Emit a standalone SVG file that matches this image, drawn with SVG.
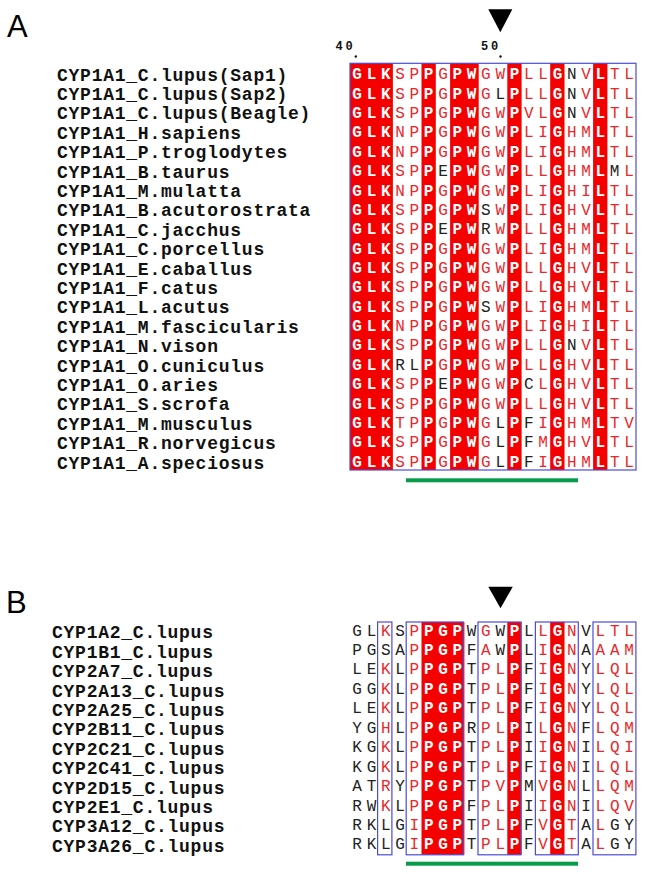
<svg xmlns="http://www.w3.org/2000/svg" width="646" height="874" viewBox="0 0 646 874">
<style>
.panel{font-family:"Liberation Sans",Arial,sans-serif;font-size:31px;fill:#000}
.lab{font-family:"Liberation Mono","DejaVu Sans Mono",monospace;font-weight:bold;font-size:18px;letter-spacing:0.75px;fill:#111}
.seq{font-family:"Liberation Mono","DejaVu Sans Mono",monospace;font-size:16px;letter-spacing:4.7px;fill:#e8282c}
.w{fill:#fff;font-weight:bold}
.k{fill:#222}
.bg{fill:#f40000}
.box{fill:none;stroke:#4b4bdc;stroke-width:1.2}
.grn{fill:#089c4a}
.num{font-family:"Liberation Mono","DejaVu Sans Mono",monospace;font-weight:bold;font-size:12px;letter-spacing:2.8px;fill:#111}
.tri{fill:#000}
</style>

<g id="panelA">
<text class="panel" x="7" y="36.7">A</text>
<polygon class="tri" points="488.3,9.3 512.3,9.3 500.3,32.3"/>
<text class="num" x="335.5" y="50">40</text>
<text class="num" x="481" y="50">50</text>
<circle cx="355.8" cy="56.5" r="1.2" fill="#111"/>
<circle cx="500.5" cy="56.5" r="1.2" fill="#111"/>

<g id="labelsA" class="lab">
<text x="57" y="80.5">CYP1A1_C.lupus(Sap1)</text>
<text x="57" y="99.9">CYP1A1_C.lupus(Sap2)</text>
<text x="57" y="119.3">CYP1A1_C.lupus(Beagle)</text>
<text x="57" y="138.7">CYP1A1_H.sapiens</text>
<text x="57" y="158.1">CYP1A1_P.troglodytes</text>
<text x="57" y="177.5">CYP1A1_B.taurus</text>
<text x="57" y="196.9">CYP1A1_M.mulatta</text>
<text x="57" y="216.3">CYP1A1_B.acutorostrata</text>
<text x="57" y="235.7">CYP1A1_C.jacchus</text>
<text x="57" y="255.1">CYP1A1_C.porcellus</text>
<text x="57" y="274.5">CYP1A1_E.caballus</text>
<text x="57" y="293.9">CYP1A1_F.catus</text>
<text x="57" y="313.3">CYP1A1_L.acutus</text>
<text x="57" y="332.7">CYP1A1_M.fascicularis</text>
<text x="57" y="352.1">CYP1A1_N.vison</text>
<text x="57" y="371.5">CYP1A1_O.cuniculus</text>
<text x="57" y="390.9">CYP1A1_O.aries</text>
<text x="57" y="410.3">CYP1A1_S.scrofa</text>
<text x="57" y="429.7">CYP1A1_M.musculus</text>
<text x="57" y="449.1">CYP1A1_R.norvegicus</text>
<text x="57" y="468.5">CYP1A1_A.speciosus</text>
</g>

<g id="shadingA">
<rect class="bg" x="350" y="63.3" width="42.9" height="406.7"/>
<rect class="bg" x="421.5" y="63.3" width="14.3" height="406.7"/>
<rect class="bg" x="450.1" y="63.3" width="28.6" height="406.7"/>
<rect class="bg" x="507.3" y="63.3" width="14.3" height="406.7"/>
<rect class="bg" x="550.2" y="63.3" width="14.3" height="406.7"/>
<rect class="bg" x="593.1" y="63.3" width="14.3" height="406.7"/>
<rect class="box" x="350" y="63.3" width="286" height="406.7"/>
</g>

<g id="alignA" class="seq">
<text x="352.35" y="79.3"><tspan class="w">GLK</tspan>SP<tspan class="w">P</tspan>G<tspan class="w">PW</tspan>GW<tspan class="w">P</tspan>LL<tspan class="w">G</tspan><tspan class="k">N</tspan>V<tspan class="w">L</tspan>TL</text>
<text x="352.35" y="98.67"><tspan class="w">GLK</tspan>SP<tspan class="w">P</tspan>G<tspan class="w">PW</tspan>G<tspan class="k">L</tspan><tspan class="w">P</tspan>LL<tspan class="w">G</tspan><tspan class="k">N</tspan>V<tspan class="w">L</tspan>TL</text>
<text x="352.35" y="118.04"><tspan class="w">GLK</tspan>SP<tspan class="w">P</tspan>G<tspan class="w">PW</tspan>GW<tspan class="w">P</tspan>VL<tspan class="w">G</tspan><tspan class="k">N</tspan>V<tspan class="w">L</tspan>TL</text>
<text x="352.35" y="137.41"><tspan class="w">GLK</tspan>NP<tspan class="w">P</tspan>G<tspan class="w">PW</tspan>GW<tspan class="w">P</tspan>LI<tspan class="w">G</tspan>HM<tspan class="w">L</tspan>TL</text>
<text x="352.35" y="156.78"><tspan class="w">GLK</tspan>NP<tspan class="w">P</tspan>G<tspan class="w">PW</tspan>GW<tspan class="w">P</tspan>LI<tspan class="w">G</tspan>HM<tspan class="w">L</tspan>TL</text>
<text x="352.35" y="176.15"><tspan class="w">GLK</tspan>SP<tspan class="w">P</tspan><tspan class="k">E</tspan><tspan class="w">PW</tspan>GW<tspan class="w">P</tspan>LL<tspan class="w">G</tspan>HM<tspan class="w">L</tspan><tspan class="k">M</tspan>L</text>
<text x="352.35" y="195.52"><tspan class="w">GLK</tspan>NP<tspan class="w">P</tspan>G<tspan class="w">PW</tspan>GW<tspan class="w">P</tspan>LI<tspan class="w">G</tspan>HI<tspan class="w">L</tspan>TL</text>
<text x="352.35" y="214.89"><tspan class="w">GLK</tspan>SP<tspan class="w">P</tspan>G<tspan class="w">PW</tspan><tspan class="k">S</tspan>W<tspan class="w">P</tspan>LI<tspan class="w">G</tspan>HV<tspan class="w">L</tspan>TL</text>
<text x="352.35" y="234.26"><tspan class="w">GLK</tspan>SP<tspan class="w">P</tspan><tspan class="k">E</tspan><tspan class="w">PW</tspan><tspan class="k">R</tspan>W<tspan class="w">P</tspan>LL<tspan class="w">G</tspan>HM<tspan class="w">L</tspan>TL</text>
<text x="352.35" y="253.63"><tspan class="w">GLK</tspan>SP<tspan class="w">P</tspan>G<tspan class="w">PW</tspan>GW<tspan class="w">P</tspan>LI<tspan class="w">G</tspan>HM<tspan class="w">L</tspan>TL</text>
<text x="352.35" y="273"><tspan class="w">GLK</tspan>SP<tspan class="w">P</tspan>G<tspan class="w">PW</tspan>GW<tspan class="w">P</tspan>LL<tspan class="w">G</tspan>HV<tspan class="w">L</tspan>TL</text>
<text x="352.35" y="292.37"><tspan class="w">GLK</tspan>SP<tspan class="w">P</tspan>G<tspan class="w">PW</tspan>GW<tspan class="w">P</tspan>LL<tspan class="w">G</tspan>HV<tspan class="w">L</tspan>TL</text>
<text x="352.35" y="311.74"><tspan class="w">GLK</tspan>SP<tspan class="w">P</tspan>G<tspan class="w">PW</tspan><tspan class="k">S</tspan>W<tspan class="w">P</tspan>LI<tspan class="w">G</tspan>HM<tspan class="w">L</tspan>TL</text>
<text x="352.35" y="331.11"><tspan class="w">GLK</tspan>NP<tspan class="w">P</tspan>G<tspan class="w">PW</tspan>GW<tspan class="w">P</tspan>LI<tspan class="w">G</tspan>HI<tspan class="w">L</tspan>TL</text>
<text x="352.35" y="350.48"><tspan class="w">GLK</tspan>SP<tspan class="w">P</tspan>G<tspan class="w">PW</tspan>GW<tspan class="w">P</tspan>LL<tspan class="w">G</tspan><tspan class="k">N</tspan>V<tspan class="w">L</tspan>TL</text>
<text x="352.35" y="369.85"><tspan class="w">GLK</tspan><tspan class="k">RL</tspan><tspan class="w">P</tspan>G<tspan class="w">PW</tspan>GW<tspan class="w">P</tspan>LL<tspan class="w">G</tspan>HV<tspan class="w">L</tspan>TL</text>
<text x="352.35" y="389.22"><tspan class="w">GLK</tspan>SP<tspan class="w">P</tspan><tspan class="k">E</tspan><tspan class="w">PW</tspan>GW<tspan class="w">P</tspan><tspan class="k">C</tspan>L<tspan class="w">G</tspan>HV<tspan class="w">L</tspan>TL</text>
<text x="352.35" y="408.59"><tspan class="w">GLK</tspan>SP<tspan class="w">P</tspan>G<tspan class="w">PW</tspan>GW<tspan class="w">P</tspan>LL<tspan class="w">G</tspan>HV<tspan class="w">L</tspan>TL</text>
<text x="352.35" y="427.96"><tspan class="w">GLK</tspan>TP<tspan class="w">P</tspan>G<tspan class="w">PW</tspan>G<tspan class="k">L</tspan><tspan class="w">P</tspan><tspan class="k">F</tspan>I<tspan class="w">G</tspan>HM<tspan class="w">L</tspan>TV</text>
<text x="352.35" y="447.33"><tspan class="w">GLK</tspan>SP<tspan class="w">P</tspan>G<tspan class="w">PW</tspan>G<tspan class="k">L</tspan><tspan class="w">P</tspan><tspan class="k">F</tspan>M<tspan class="w">G</tspan>HV<tspan class="w">L</tspan>TL</text>
<text x="352.35" y="466.7"><tspan class="w">GLK</tspan>SP<tspan class="w">P</tspan>G<tspan class="w">PW</tspan>G<tspan class="k">L</tspan><tspan class="w">P</tspan><tspan class="k">F</tspan>I<tspan class="w">G</tspan>HM<tspan class="w">L</tspan>TL</text>
</g>
<rect class="grn" x="406" y="478.3" width="172" height="4"/>
</g>

<g id="panelB">
<text class="panel" x="6" y="612.7">B</text>
<polygon class="tri" points="488.3,586.7 512.8,586.7 500.5,608.3"/>

<g id="labelsB" class="lab">
<text x="52" y="638.3">CYP1A2_C.lupus</text>
<text x="52" y="657.7">CYP1B1_C.lupus</text>
<text x="52" y="677.1">CYP2A7_C.lupus</text>
<text x="52" y="696.5">CYP2A13_C.lupus</text>
<text x="52" y="715.9">CYP2A25_C.lupus</text>
<text x="52" y="735.3">CYP2B11_C.lupus</text>
<text x="52" y="754.7">CYP2C21_C.lupus</text>
<text x="52" y="774.1">CYP2C41_C.lupus</text>
<text x="52" y="793.5">CYP2D15_C.lupus</text>
<text x="52" y="812.9">CYP2E1_C.lupus</text>
<text x="52" y="832.3">CYP3A12_C.lupus</text>
<text x="52" y="851.7">CYP3A26_C.lupus</text>
</g>

<g id="shadingB">
<rect class="bg" x="421.5" y="622" width="42.9" height="232.8"/>
<rect class="bg" x="507.3" y="622" width="14.3" height="232.8"/>
<rect class="bg" x="550.2" y="622" width="14.3" height="232.8"/>
<rect class="box" x="377.6" y="622" width="14.3" height="232.8"/>
<rect class="box" x="406.2" y="622" width="57.2" height="232.8"/>
<rect class="box" x="478" y="622" width="42.9" height="232.8"/>
<rect class="box" x="535.4" y="622" width="42.9" height="232.8"/>
<rect class="box" x="593" y="622" width="42.9" height="232.8"/>
</g>

<g id="alignB" class="seq">
<text x="352.35" y="635.5"><tspan class="k">GL</tspan>K<tspan class="k">S</tspan>P<tspan class="w">PGP</tspan><tspan class="k">W</tspan>G<tspan class="k">W</tspan><tspan class="w">P</tspan><tspan class="k">L</tspan>L<tspan class="w">G</tspan>N<tspan class="k">V</tspan>LTL</text>
<text x="352.35" y="654.95"><tspan class="k">PGSA</tspan>P<tspan class="w">PGP</tspan><tspan class="k">F</tspan>A<tspan class="k">W</tspan><tspan class="w">P</tspan><tspan class="k">L</tspan>I<tspan class="w">G</tspan>N<tspan class="k">A</tspan>AAM</text>
<text x="352.35" y="674.4"><tspan class="k">LE</tspan>K<tspan class="k">L</tspan>P<tspan class="w">PGP</tspan><tspan class="k">T</tspan>PL<tspan class="w">P</tspan><tspan class="k">F</tspan>I<tspan class="w">G</tspan>N<tspan class="k">Y</tspan>LQL</text>
<text x="352.35" y="693.85"><tspan class="k">GG</tspan>K<tspan class="k">L</tspan>P<tspan class="w">PGP</tspan><tspan class="k">T</tspan>PL<tspan class="w">P</tspan><tspan class="k">F</tspan>I<tspan class="w">G</tspan>N<tspan class="k">Y</tspan>LQL</text>
<text x="352.35" y="713.3"><tspan class="k">LE</tspan>K<tspan class="k">L</tspan>P<tspan class="w">PGP</tspan><tspan class="k">T</tspan>PL<tspan class="w">P</tspan><tspan class="k">F</tspan>I<tspan class="w">G</tspan>N<tspan class="k">Y</tspan>LQL</text>
<text x="352.35" y="732.75"><tspan class="k">YG</tspan>H<tspan class="k">L</tspan>P<tspan class="w">PGP</tspan><tspan class="k">R</tspan>PL<tspan class="w">P</tspan><tspan class="k">I</tspan>L<tspan class="w">G</tspan>N<tspan class="k">F</tspan>LQM</text>
<text x="352.35" y="752.2"><tspan class="k">KG</tspan>K<tspan class="k">L</tspan>P<tspan class="w">PGP</tspan><tspan class="k">T</tspan>PL<tspan class="w">P</tspan><tspan class="k">I</tspan>I<tspan class="w">G</tspan>N<tspan class="k">I</tspan>LQI</text>
<text x="352.35" y="771.65"><tspan class="k">KG</tspan>K<tspan class="k">L</tspan>P<tspan class="w">PGP</tspan><tspan class="k">T</tspan>PL<tspan class="w">P</tspan><tspan class="k">F</tspan>I<tspan class="w">G</tspan>N<tspan class="k">I</tspan>LQL</text>
<text x="352.35" y="791.1"><tspan class="k">AT</tspan>R<tspan class="k">Y</tspan>P<tspan class="w">PGP</tspan><tspan class="k">T</tspan>PV<tspan class="w">P</tspan><tspan class="k">M</tspan>V<tspan class="w">G</tspan>N<tspan class="k">L</tspan>LQM</text>
<text x="352.35" y="810.55"><tspan class="k">RW</tspan>K<tspan class="k">L</tspan>P<tspan class="w">PGP</tspan><tspan class="k">F</tspan>PL<tspan class="w">P</tspan><tspan class="k">I</tspan>I<tspan class="w">G</tspan>N<tspan class="k">I</tspan>LQV</text>
<text x="352.35" y="830"><tspan class="k">RKLG</tspan>I<tspan class="w">PGP</tspan><tspan class="k">T</tspan>PL<tspan class="w">P</tspan><tspan class="k">F</tspan>V<tspan class="w">G</tspan>T<tspan class="k">A</tspan>L<tspan class="k">GY</tspan></text>
<text x="352.35" y="849.45"><tspan class="k">RKLG</tspan>I<tspan class="w">PGP</tspan><tspan class="k">T</tspan>PL<tspan class="w">P</tspan><tspan class="k">F</tspan>V<tspan class="w">G</tspan>T<tspan class="k">A</tspan>L<tspan class="k">GY</tspan></text>
</g>
<rect class="grn" x="406" y="861.7" width="172" height="4"/>
</g>
</svg>
